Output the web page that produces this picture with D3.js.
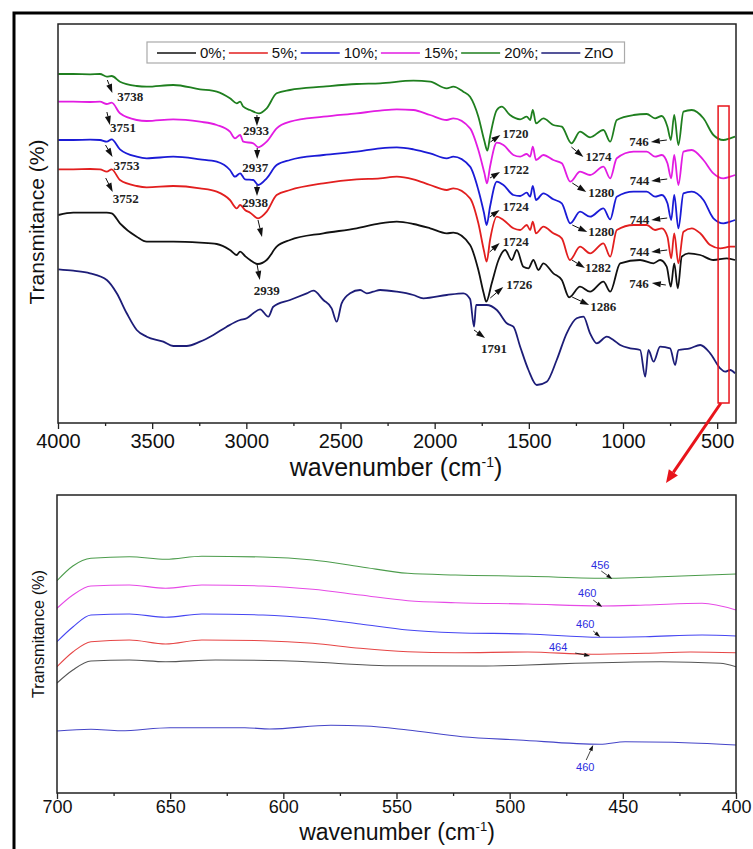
<!DOCTYPE html>
<html>
<head>
<meta charset="utf-8">
<script src="https://cdn.jsdelivr.net/npm/d3@7"></script>
<style>
  body { margin: 0; background: #fff; }
  svg { display: block; }
</style>
</head>
<body>
<svg id="fig" width="753" height="849"></svg>
<script>
// ---------- FTIR spectra, full range: [wavenumber (cm-1), transmittance (a.u., offset)] ----------
const top0 = [[3998,208],[3919,210.3],[3830,210.3],[3777,210.3],[3741,210.3],[3715,209.7],[3671,199.7],[3582,186.3],[3529,181.3],[3388,181.3],[3246,180.3],[3157,179],[3087,173],[3051,168],[3033,171.3],[3007,167],[2980,163],[2939,159],[2892,163],[2839,176.3],[2768,183],[2591,189.7],[2414,194.7],[2290,199.7],[2201,201.3],[2113,199],[2024,194.7],[1936,189.7],[1901,190.3],[1812,178],[1768,153],[1740,130],[1726,121.3],[1697,139.7],[1661,163],[1626,173],[1591,163],[1564,173],[1529,156.3],[1502,154.7],[1476,163],[1449,153],[1423,159.7],[1370,149.7],[1325,143],[1286,125.7],[1228,136.3],[1175,131.3],[1104,141.3],[1068,131.3],[1015,159.7],[909,163],[838,159.7],[803,163],[768,156.3],[746,136.3],[728,159.7],[709,134.7],[688,166.3],[652,169.7],[590,168],[520,163],[449,164.7],[405,163]];
const top5 = [[3998,253.7],[3919,253.7],[3830,254],[3777,253.7],[3741,251.3],[3715,253.7],[3671,243],[3582,237],[3529,235.7],[3388,237],[3246,234.7],[3157,231.3],[3087,223],[3051,214.7],[3033,218],[3007,213],[2980,210.3],[2938,204.7],[2892,211.3],[2839,228],[2768,233],[2591,239.7],[2414,243.7],[2290,244.7],[2201,246.3],[2113,243.7],[2024,238],[1936,233],[1901,234.7],[1812,224.7],[1768,199.7],[1738,172],[1724,161.3],[1706,183],[1670,206.3],[1635,203],[1582,194.7],[1546,193],[1511,198],[1493,193],[1479,201.3],[1462,189.7],[1423,196.3],[1370,189.7],[1325,184.7],[1282,163],[1228,176.3],[1175,169.7],[1104,179.7],[1068,166.3],[1033,193],[944,198],[874,198],[830,193],[794,194.7],[764,186.3],[744,164.7],[728,189.7],[706,159.7],[679,191.3],[635,194.7],[590,189.7],[537,178],[484,174.7],[431,176.3],[405,176.3]];
const top10 = [[3998,283],[3919,283],[3830,283.3],[3777,283],[3741,281.3],[3715,283.7],[3671,273.7],[3582,266.3],[3529,264.7],[3388,266.3],[3246,263.7],[3157,261.3],[3087,253],[3060,246.3],[3033,249.7],[3007,243.7],[2963,243],[2937,238],[2892,244.7],[2839,258],[2768,263],[2591,268],[2414,271.3],[2290,274.7],[2201,275.7],[2113,273.7],[2024,269.7],[1936,264.7],[1901,266.3],[1812,256.3],[1768,233],[1738,210],[1724,198],[1706,216.3],[1670,241.3],[1635,238],[1582,228],[1546,227],[1511,230.3],[1493,226.3],[1479,237],[1462,223],[1423,229.7],[1370,223.7],[1325,219.7],[1280,199.7],[1228,211.3],[1175,206.3],[1104,214.7],[1068,203.7],[1033,226.3],[944,231.3],[874,231.3],[830,226.3],[794,228],[764,219.7],[744,203],[728,228],[706,194.7],[679,229.7],[635,231.3],[573,223],[520,204.7],[467,199.7],[431,201.3],[405,203]];
const top15 = [[3998,321.3],[3919,321.3],[3830,321],[3777,321.3],[3741,319],[3715,320.3],[3671,309.7],[3582,303],[3529,302],[3388,303.7],[3246,301.3],[3157,298],[3087,291.3],[3060,284.7],[3033,288],[3016,281.3],[2963,279.7],[2937,275.7],[2892,281.3],[2839,294.7],[2768,301.3],[2591,306.3],[2414,309.7],[2290,312.3],[2201,313.7],[2113,313],[2024,308],[1936,303],[1901,304.7],[1812,294.7],[1768,273],[1736,250],[1722,239.7],[1706,256.3],[1670,280.3],[1635,278],[1582,268],[1546,266.3],[1511,269],[1493,266.3],[1479,276.3],[1462,263],[1423,268],[1370,263],[1325,259.7],[1280,241.3],[1228,251.3],[1175,248],[1104,256.3],[1068,244.7],[1033,264.7],[944,271.3],[874,271.3],[830,266.3],[794,268],[764,259.7],[744,244.7],[728,268],[706,238],[679,271.3],[635,273],[573,263],[520,249.7],[467,244.7],[431,246.3],[405,248]];
const top20 = [[3998,349],[3919,349],[3830,348.7],[3777,349],[3741,346.3],[3715,347],[3671,341.3],[3582,337],[3529,336.3],[3388,338],[3246,333.7],[3157,331.3],[3087,324.7],[3051,319.7],[3033,321.3],[3016,316.3],[2980,313],[2933,309.7],[2892,314.7],[2839,329.7],[2768,333],[2591,336.3],[2414,339],[2290,339.7],[2113,342.3],[2024,341.3],[1936,334.7],[1901,336.3],[1848,331.3],[1812,326.3],[1768,306.3],[1736,282],[1720,272.3],[1706,286.3],[1670,313],[1644,316.3],[1600,308],[1546,303.7],[1511,306.3],[1493,303],[1479,313],[1462,299.7],[1423,304.7],[1370,298],[1325,296.3],[1274,279.7],[1228,291.3],[1175,285.7],[1104,293],[1068,281.3],[1033,303],[944,308],[874,309],[830,304.7],[794,307],[764,296.3],[746,283],[728,308],[706,278],[679,311.3],[635,313],[573,304.7],[520,288],[467,283],[431,284.7],[405,286.3]];
const topZnO = [[3998,153.7],[3919,152.3],[3830,149.7],[3741,143],[3688,129.7],[3635,109.7],[3582,93],[3529,86.3],[3441,81.3],[3388,77],[3317,77],[3246,81.3],[3175,88],[3104,96.3],[3033,103],[2998,104.7],[2963,109.7],[2927,113.7],[2883,106.3],[2857,116.3],[2768,123],[2679,129.7],[2644,132.3],[2591,123],[2547,114.7],[2520,101.3],[2494,119.7],[2449,129.7],[2396,133],[2361,129.7],[2326,131.3],[2290,133],[2201,131.3],[2113,128],[2060,124.7],[1936,128],[1848,129.7],[1812,124],[1791,96.3],[1780,118],[1724,118],[1670,113],[1617,99.7],[1582,96.3],[1546,76.3],[1502,53],[1458,38],[1405,41.3],[1352,63],[1299,89.7],[1246,104.7],[1210,106.3],[1175,89.7],[1139,79.7],[1086,86.3],[1051,83],[1015,78],[962,74.7],[909,73],[882,46.3],[865,73],[838,61.3],[803,76.3],[750,74.7],[723,58],[706,73],[644,74.7],[590,78],[537,69.7],[484,54.7],[458,51.3],[431,53],[405,49.7]];

// ---------- FTIR spectra, 700-400 cm-1 detail ----------
const low0 = [[700,110],[693,123],[685,132],[668,133],[652,131.3],[630,133],[600,132.3],[577,129.7],[555,127.3],[513,127],[492,128],[471,129.7],[433,131.3],[407,129.7],[400,126.3]];
const low5 = [[700,126.3],[693,141],[685,151.3],[668,153],[652,149],[636,153],[609,152.3],[587,149.7],[566,144.7],[545,141.3],[524,140.3],[492,141],[464,138.7],[440,139.7],[420,141],[400,140.3]];
const low10 = [[700,151.3],[693,166],[685,178],[668,179],[652,175.7],[636,179],[609,178],[587,174.7],[566,169],[545,163],[524,160.3],[492,159],[460,155.7],[440,156.3],[415,158],[400,157]];
const low15 = [[700,184.7],[693,198],[685,207],[668,208],[652,204.7],[636,208],[609,207],[587,203.7],[566,198],[545,192.3],[524,190.3],[492,189],[460,187],[440,188],[415,189.7],[400,183]];
const low20 = [[700,212.3],[693,227],[685,234.7],[668,236.3],[652,233.7],[636,236.7],[609,236],[587,233],[566,226.3],[545,219.7],[524,218],[492,216.7],[456,214.7],[433,216.3],[400,219]];
const lowZnO = [[700,62],[685,63.7],[672,62.3],[650,65.3],[617,65.3],[606,64],[579,67.7],[564,67],[545,63],[521,56.3],[496,53],[460,48.7],[449,51.3],[428,50.7],[400,48]];

// ---------- series names, tick labels ----------
const seriesNames = ["0%;", "5%;", "10%;", "15%;", "20%;", "ZnO"];
const topTicks = [4000, 3500, 3000, 2500, 2000, 1500, 1000, 500];
const topMinorTicks = [3750, 3250, 2750, 2250, 1750, 1250, 750];
const lowTicks = [700, 650, 600, 550, 500, 450, 400];
const lowMinorTicks = [675, 625, 575, 525, 475, 425];

// peak labels on the full-range panel: text is the band position (cm-1)
const topPeaks = [
  {t:"3738", s:4, v:343}, {t:"3751", s:3, v:311}, {t:"3753", s:2, v:278}, {t:"3752", s:1, v:245},
  {t:"2933", s:4, v:308}, {t:"2937", s:3, v:275}, {t:"2938", s:2, v:238}, {t:"", wn:2938, s:1, v:203},
  {t:"2939", s:0, v:160},
  {t:"1720", s:4, v:281}, {t:"1722", s:3, v:245}, {t:"1724", s:2, v:206}, {t:"1724", s:1, v:171},
  {t:"1726", s:0, v:125}, {t:"1791", s:5, v:93},
  {t:"1274", s:4, v:276}, {t:"1280", s:3, v:240}, {t:"1280", s:2, v:198}, {t:"1282", s:1, v:163},
  {t:"1286", s:0, v:126},
  {t:"746", s:4, v:283}, {t:"744", s:3, v:244}, {t:"744", s:2, v:205}, {t:"744", s:1, v:173},
  {t:"746", s:0, v:138}
];
// peak labels on the 700-400 panel
const lowPeaks = [
  {t:"456", s:4, v:214}, {t:"460", s:3, v:186}, {t:"460", s:2, v:156}, {t:"464", s:1, v:137},
  {t:"460", s:5, v:48}
];

// ---------- styling / layout ----------
const topColors = ["#111111", "#e21f1f", "#1b1bd6", "#e21ce2", "#1f7f1f", "#1d1d78"];
const lowColors = ["#555555", "#e64646", "#4646f2", "#e64ae6", "#4c9c4c", "#4545c8"];
const SANS = "'Liberation Sans', Arial, sans-serif";
const SERIF = "'Liberation Serif', 'Times New Roman', serif";

// arrow offsets (px) for each peak label: a0 = tail, a1 = head, l = text position, anchor
const topLayout = {
  "3738":{a0:[0,0],a1:[5,13],l:[10,21],an:"start"},
  "3751":{a0:[2,0],a1:[5,13],l:[5,20],an:"start"},
  "3753":{a0:[1,0],a1:[8,12],l:[9,25],an:"start"},
  "3752":{a0:[1,0],a1:[8,14],l:[8,25],an:"start"},
  "2933":{a0:[-2,0],a1:[-2,11],l:[-3,20],an:"middle"},
  "2937":{a0:[-1,0],a1:[-1,11],l:[-3,24],an:"middle"},
  "2938":{a0:[-1,0],a1:[-1,11],l:[-3,22],an:"middle"},
  "":{a0:[0,0],a1:[4,17],l:[0,0],an:"middle"},
  "2939":{a0:[-1,0],a1:[2,17],l:[9,32],an:"middle"},
  "1720":{a0:[3,0],a1:[13,-7],l:[15,-4],an:"start"},
  "1722":{a0:[3,0],a1:[13,-6],l:[16,-4],an:"start"},
  "1724b":{a0:[3,0],a1:[13,-7],l:[16,-6],an:"start"},
  "1724r":{a0:[3,0],a1:[13,-9],l:[16,-6],an:"start"},
  "1726":{a0:[4,0],a1:[17,-11],l:[20,-9],an:"start"},
  "1791":{a0:[0,0],a1:[11,8],l:[7,23],an:"start"},
  "1274":{a0:[0,0],a1:[12,10],l:[14,14],an:"start"},
  "1280m":{a0:[2,0],a1:[16,9],l:[18,14],an:"start"},
  "1280b":{a0:[2,0],a1:[17,7],l:[18,11],an:"start"},
  "1282":{a0:[2,0],a1:[15,8],l:[15,12],an:"start"},
  "1286":{a0:[3,0],a1:[20,8],l:[21,14],an:"start"},
  "746g":{a0:[-4,0],a1:[-20,2],l:[-22,6],an:"end"},
  "744":{a0:[-4,0],a1:[-20,2],l:[-22,6],an:"end"},
  "746k":{a0:[-5,0],a1:[-19,-2],l:[-22,3],an:"end"}
};
function topKey(p) {
  if (p.t === "1724") return p.s === 2 ? "1724b" : "1724r";
  if (p.t === "1280") return p.s === 3 ? "1280m" : "1280b";
  if (p.t === "746") return p.s === 4 ? "746g" : "746k";
  return p.t;
}
const lowLayout = [
  {a0:[-8,-8],a1:[3,0],l:[-9,-10]},
  {a0:[-7,-7],a1:[2,0],l:[-13,-10]},
  {a0:[-7,-6],a1:[0,0],l:[-15,-9]},
  {a0:[-16,-3],a1:[-1,0],l:[-33,-5]},
  {a0:[-14,15],a1:[-7,0],l:[-15,26]}
];

const svg = d3.select("#fig");

// outer figure frame
svg.append("rect").attr("x", 14).attr("y", 13).attr("width", 800).attr("height", 900)
  .attr("fill", "none").attr("stroke", "#000").attr("stroke-width", 3);

function arrow(g, p0, p1, len, wid, color, lw) {
  const dx = p1[0] - p0[0], dy = p1[1] - p0[1];
  const L = Math.hypot(dx, dy) || 1;
  const ux = dx / L, uy = dy / L, nx = -uy, ny = ux;
  const bx = p1[0] - ux * len, by = p1[1] - uy * len;
  g.append("line").attr("x1", p0[0]).attr("y1", p0[1]).attr("x2", bx).attr("y2", by)
    .attr("stroke", color).attr("stroke-width", lw);
  g.append("path")
    .attr("d", `M${p1[0]},${p1[1]}L${bx + nx * wid / 2},${by + ny * wid / 2}L${bx - nx * wid / 2},${by - ny * wid / 2}Z`)
    .attr("fill", color);
}

function drawAxis(g, scale, y, major, minor, fontSize, pad) {
  const ax = g.append("g").attr("transform", `translate(0,${y})`)
    .call(d3.axisBottom(scale).tickValues(major).tickSize(6).tickPadding(pad).tickFormat(d3.format("d")));
  ax.select(".domain").remove();
  ax.selectAll(".tick line").attr("stroke", "#222").attr("stroke-width", 1.3);
  ax.selectAll(".tick text").attr("font-family", SANS).attr("font-size", fontSize).attr("fill", "#111");
  const mn = g.append("g").attr("transform", `translate(0,${y})`)
    .call(d3.axisBottom(scale).tickValues(minor).tickSize(3).tickFormat(""));
  mn.select(".domain").remove();
  mn.selectAll(".tick line").attr("stroke", "#222").attr("stroke-width", 1.3);
}

function axisTitle(g, x, y, size) {
  g.append("text").attr("x", x).attr("y", y).attr("text-anchor", "middle")
    .attr("font-family", SANS).attr("font-size", size).attr("fill", "#111")
    .html(`wavenumber (cm<tspan dy="-9" font-size="${Math.round(size * 0.55)}">-1</tspan><tspan dy="9">)</tspan>`);
}

// ================= full-range panel =================
const T = {x0: 58, x1: 736, y0: 24, y1: 423};
const xTop = d3.scaleLinear().domain([4000, 400]).range([T.x0, T.x1]);
const yTop = d3.scaleLinear().domain([0, 399]).range([T.y1, T.y0]);
const gTop = svg.append("g");

svg.append("defs").append("clipPath").attr("id", "clipTop")
  .append("rect").attr("x", T.x0).attr("y", T.y0).attr("width", T.x1 - T.x0).attr("height", T.y1 - T.y0);

const topSeries = [top0, top5, top10, top15, top20, topZnO];
const lineTop = d3.line().x(d => xTop(d[0])).y(d => yTop(d[1])).curve(d3.curveMonotoneX);
gTop.append("g").attr("clip-path", "url(#clipTop)")
  .selectAll("path").data(topSeries).join("path")
  .attr("d", lineTop).attr("fill", "none")
  .attr("stroke", (d, i) => topColors[i]).attr("stroke-width", 1.8).attr("stroke-linejoin", "round");

gTop.append("rect").attr("x", T.x0).attr("y", T.y0).attr("width", T.x1 - T.x0).attr("height", T.y1 - T.y0)
  .attr("fill", "none").attr("stroke", "#222").attr("stroke-width", 1.5);
drawAxis(gTop, xTop, T.y1, topTicks, topMinorTicks, 20, 5);
axisTitle(gTop, 396, 476, 25);
gTop.append("text").attr("transform", "translate(44,222) rotate(-90)").attr("text-anchor", "middle")
  .attr("font-family", SANS).attr("font-size", 21).attr("fill", "#111").text("Transmitance (%)");

// legend
const leg = gTop.append("g");
const legBox = leg.append("rect").attr("y", 42).attr("height", 21).attr("fill", "#fff")
  .attr("stroke", "#aaa").attr("stroke-width", 1.2);
let lx = 157;
seriesNames.forEach((name, i) => {
  leg.append("line").attr("x1", lx).attr("x2", lx + 39).attr("y1", 53).attr("y2", 53)
    .attr("stroke", topColors[i]).attr("stroke-width", 1.6);
  const t = leg.append("text").attr("x", lx + 43).attr("y", 58).attr("font-family", SANS)
    .attr("font-size", 15).attr("fill", "#111").text(name);
  lx += 43 + t.node().getComputedTextLength() + 3;
});
legBox.attr("x", 147).attr("width", lx - 147 + 8);

// zoom window marker and pointer to the detail panel
gTop.append("rect").attr("x", xTop(495)).attr("y", yTop(317)).attr("width", xTop(437) - xTop(495))
  .attr("height", yTop(20) - yTop(317)).attr("fill", "none").attr("stroke", "#e8141b").attr("stroke-width", 1.5);
arrow(svg, [xTop(480), yTop(20)], [666, 483], 13, 11, "#e8141b", 3);

// peak annotations
const gNotes = gTop.append("g");
topPeaks.forEach(p => {
  const wn = p.wn !== undefined ? p.wn : +p.t;
  const ax = xTop(wn), ay = yTop(p.v);
  const L = topLayout[topKey(p)];
  arrow(gNotes, [ax + L.a0[0], ay + L.a0[1]], [ax + L.a1[0], ay + L.a1[1]], 9, 6, "#111", 1);
  if (p.t) {
    gNotes.append("text").attr("x", ax + L.l[0]).attr("y", ay + L.l[1]).attr("text-anchor", L.an)
      .attr("font-family", SERIF).attr("font-weight", "bold").attr("font-size", 13).attr("fill", "#222")
      .text(p.t);
  }
});

// ================= 700-400 cm-1 panel =================
const B = {x0: 57, x1: 736, y0: 495, y1: 793};
const xLow = d3.scaleLinear().domain([700, 400]).range([B.x0, B.x1]);
const yLow = d3.scaleLinear().domain([0, 298]).range([B.y1, B.y0]);
const gLow = svg.append("g");

svg.select("defs").append("clipPath").attr("id", "clipLow")
  .append("rect").attr("x", B.x0).attr("y", B.y0).attr("width", B.x1 - B.x0).attr("height", B.y1 - B.y0);

const lowSeries = [low0, low5, low10, low15, low20, lowZnO];
const lineLow = d3.line().x(d => xLow(d[0])).y(d => yLow(d[1])).curve(d3.curveMonotoneX);
gLow.append("g").attr("clip-path", "url(#clipLow)")
  .selectAll("path").data(lowSeries).join("path")
  .attr("d", lineLow).attr("fill", "none")
  .attr("stroke", (d, i) => lowColors[i]).attr("stroke-width", 1.1);

gLow.append("rect").attr("x", B.x0).attr("y", B.y0).attr("width", B.x1 - B.x0).attr("height", B.y1 - B.y0)
  .attr("fill", "none").attr("stroke", "#222").attr("stroke-width", 1.5);
drawAxis(gLow, xLow, B.y1, lowTicks, lowMinorTicks, 18, 1);
axisTitle(gLow, 397, 840, 23);
gLow.append("text").attr("transform", "translate(44,634) rotate(-90)").attr("text-anchor", "middle")
  .attr("font-family", SANS).attr("font-size", 17).attr("fill", "#111")
  .attr("textLength", 128).attr("lengthAdjust", "spacingAndGlyphs").text("Transmitance (%)");

lowPeaks.forEach((p, i) => {
  const ax = xLow(+p.t), ay = yLow(p.v);
  const L = lowLayout[i];
  arrow(gLow, [ax + L.a0[0], ay + L.a0[1]], [ax + L.a1[0], ay + L.a1[1]], 6, 4, "#111", 0.8);
  gLow.append("text").attr("x", ax + L.l[0]).attr("y", ay + L.l[1]).attr("text-anchor", "middle")
    .attr("font-family", SANS).attr("font-size", 11).attr("fill", "#2d2de0").text(p.t);
});
</script>
</body>
</html>
